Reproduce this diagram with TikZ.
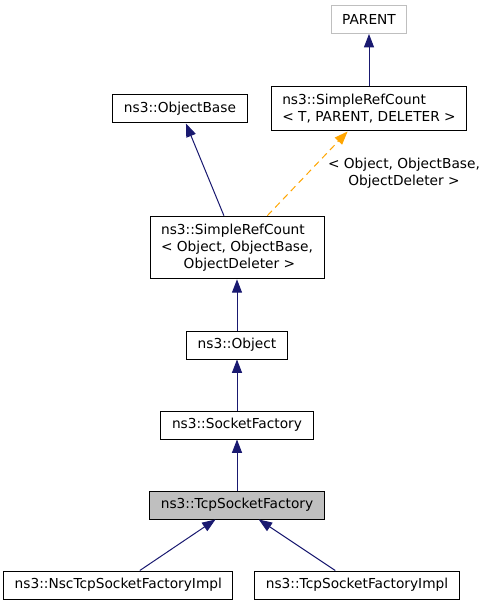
\documentclass[tikz,border=0pt]{standalone}
\usepackage{fontspec}
\setmainfont{DejaVu Sans}
\usetikzlibrary{arrows.meta}
\definecolor{edgeblue}{RGB}{25,25,112}
\definecolor{edgeorange}{RGB}{255,165,0}
\definecolor{grey75}{RGB}{191,191,191}
\begin{document}
\begin{tikzpicture}[x=0.75pt, y=-0.75pt,
  cls/.style={draw, fill=white, line width=0.75pt, inner xsep=8.3pt, inner ysep=3pt, minimum height=21pt, font=\fontsize{10.3}{12.7}\selectfont},
  inh/.style={edgeblue, line width=0.75pt, -{Triangle[length=10pt, width=7.5pt]}},
  tmpl/.style={edgeorange, line width=0.75pt, dash pattern=on 5pt off 3.5pt, -{Triangle[length=10pt, width=7.5pt]}}]
\useasboundingbox (0,0) rectangle (488,605);
\node[cls, draw=grey75] (cls0) at (369,19.5){PARENT};
\node[cls, align=left, minimum height=33pt] (cls1) at (369,109){ns3::SimpleRefCount\\< T, PARENT, DELETER >};
\draw[inh](cls1) -- (cls0);
\node[cls] (cls2) at (180,109){ns3::ObjectBase};
\node[cls, align=left, minimum height=47pt] (cls3) at (237,247.5){ns3::SimpleRefCount\\< Object, ObjectBase,\\\hspace*{17pt}ObjectDeleter >};
\draw[inh](cls3) -- (cls2);
\draw[tmpl](cls3) -- (cls1);
\node[font=\fontsize{10.3}{12.7}\selectfont, align=center] (lbl0) at (404,173){< Object, ObjectBase,\\ObjectDeleter >};
\node[cls] (cls4) at (237,345){ns3::Object};
\draw[inh](cls4) -- (cls3);
\node[cls] (cls5) at (237,425){ns3::SocketFactory};
\draw[inh](cls5) -- (cls4);
\node[cls, fill=grey75] (cls6) at (237,505){ns3::TcpSocketFactory};
\draw[inh](cls6) -- (cls5);
\node[cls] (cls7) at (118.3,585){ns3::NscTcpSocketFactoryImpl};
\node[cls] (cls8) at (357,585){ns3::TcpSocketFactoryImpl};
\draw[inh](cls7) -- (cls6);
\draw[inh](cls8) -- (cls6);
\end{tikzpicture}
\end{document}
